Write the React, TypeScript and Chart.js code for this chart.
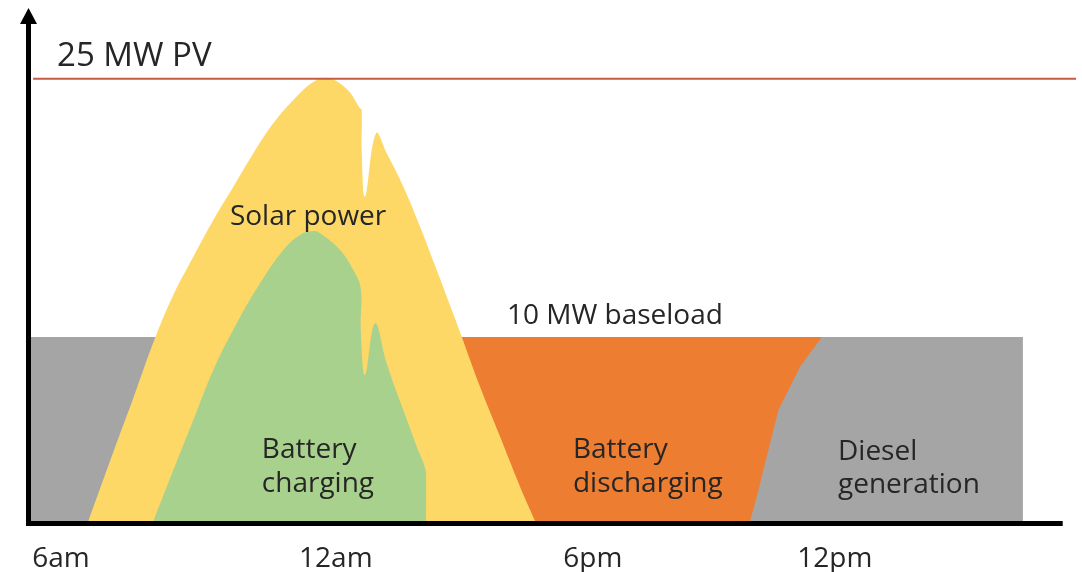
import { useEffect, useRef } from 'react';
import { Chart, registerables } from 'chart.js';

Chart.register(...registerables);

// x values are hours of the day, y values are MW
const tickHours = [6, 12.2, 18, 23.46];
const tickLabels = ['6am', '12am', '6pm', '12pm'];

const pvCapHours = [5.37, 28.9];
const pvCapMW = [25, 25];

const baseloadHours = [5.3, 27.7];
const baseloadMW = [10.4, 10.4];

const solarHours = [6.616, 7.18, 7.631, 8.121, 8.534, 8.985, 9.436, 9.888, 10.339, 10.79, 11.241, 11.693, 12.024, 12.446, 12.746, 12.784, 12.786, 12.859, 13.108, 13.349, 13.724, 14.1, 14.477, 14.851, 15.04, 15.454, 15.905, 16.357, 16.695];
const solarMW = [0, 3.9, 6.95, 10.34, 12.78, 14.94, 17.02, 18.9, 20.79, 22.48, 23.8, 24.82, 25.04, 24.42, 23.33, 23.23, 20.8, 18.33, 21.92, 20.79, 18.9, 16.64, 14.19, 11.7, 10.42, 7.59, 4.77, 1.94, 0];

const chargeHours = [8.083, 8.534, 8.985, 9.436, 9.964, 10.49, 11.016, 11.393, 11.693, 11.844, 12.295, 12.595, 12.762, 12.764, 12.859, 13.084, 13.349, 13.723, 14.026, 14.236, 14.238];
const chargeMW = [0, 2.88, 5.71, 8.54, 11.18, 13.44, 15.32, 16.17, 16.39, 16.26, 15.32, 14.19, 13.15, 10.8, 8.25, 11.18, 8.91, 6.27, 4.2, 2.7, 0];

const dischargeHours = [14.5, 23.164];
const dischargeMW = [10.4, 10.4];

const dieselHours = [21.546, 21.697, 21.846, 22.036, 22.185, 22.449, 22.674, 23.164, 27.7];
const dieselMW = [0, 1.37, 2.88, 4.77, 6.27, 7.59, 8.72, 10.4, 10.4];

const pts = (xs: number[], ys: number[]) => xs.map((x, i) => ({ x, y: ys[i] }));

const FONT = '"Open Sans", "DejaVu Sans", sans-serif';
const TEXT = '#262626';

const annotations = [
  { text: '25 MW PV', h: 5.91, v: 25.72, size: 33 },
  { text: 'Solar power', h: 9.81, v: 16.73, size: 28 },
  { text: 'Battery', h: 10.53, v: 3.56, size: 28 },
  { text: 'charging', h: 10.53, v: 1.64, size: 28 },
  { text: '10 MW baseload', h: 16.06, v: 11.14, size: 28 },
  { text: 'Battery', h: 17.55, v: 3.56, size: 28 },
  { text: 'discharging', h: 17.55, v: 1.64, size: 28 },
  { text: 'Diesel', h: 23.53, v: 3.45, size: 28 },
  { text: 'generation', h: 23.53, v: 1.58, size: 28 },
];

const overlay = {
  id: 'overlay',
  afterDraw(chart: any) {
    const { ctx, chartArea, scales } = chart;
    const X = (h: number) => scales.x.getPixelForValue(h);
    const Y = (v: number) => scales.y.getPixelForValue(v);
    ctx.save();
    ctx.fillStyle = '#000';
    const left = chartArea.left;
    const bottom = chartArea.bottom;
    // y axis line + arrow
    ctx.fillRect(left - 4, chartArea.top + 14, 5, bottom + 5 - (chartArea.top + 14));
    ctx.beginPath();
    ctx.moveTo(left - 1.5, chartArea.top);
    ctx.lineTo(left - 10, chartArea.top + 16);
    ctx.lineTo(left + 7, chartArea.top + 16);
    ctx.closePath();
    ctx.fill();
    // x axis line
    ctx.fillRect(left - 4, bottom, X(28.6) - (left - 4), 5);
    // tick labels
    ctx.fillStyle = TEXT;
    ctx.font = `28px ${FONT}`;
    ctx.textAlign = 'center';
    ctx.textBaseline = 'alphabetic';
    tickHours.forEach((h, i) => ctx.fillText(tickLabels[i], X(h), bottom + 46));
    // annotations
    ctx.textAlign = 'left';
    annotations.forEach((a) => {
      ctx.font = `${a.size}px ${FONT}`;
      ctx.fillText(a.text, X(a.h), Y(a.v));
    });
    ctx.restore();
  },
};

const area = (label: string, data: any[], color: string, order: number, tension = 0) => ({
  label,
  data,
  order,
  backgroundColor: color,
  borderColor: 'rgba(0,0,0,0)',
  borderWidth: 0,
  pointRadius: 0,
  fill: 'origin',
  tension,
});

export default function App() {
  const ref = useRef<HTMLCanvasElement>(null);
  useEffect(() => {
    const chart = new Chart(ref.current as HTMLCanvasElement, {
      type: 'line',
      data: {
        datasets: [
          {
            label: '25 MW PV',
            data: pts(pvCapHours, pvCapMW),
            order: 1,
            borderColor: '#C55A46',
            borderWidth: 2,
            pointRadius: 0,
            fill: false,
            clip: false,
          } as any,
          area('Battery charging', pts(chargeHours, chargeMW), '#A9D18E', 2, 0.4),
          area('Solar power', pts(solarHours, solarMW), '#FDD866', 3, 0.4),
          area('Diesel generation', pts(dieselHours, dieselMW), '#A5A5A5', 4, 0),
          area('Battery discharging', pts(dischargeHours, dischargeMW), '#ED7D31', 5),
          area('10 MW baseload', pts(baseloadHours, baseloadMW), '#A5A5A5', 6),
        ] as any,
      },
      options: {
        animation: false,
        responsive: false,
        events: [],
        layout: { padding: { left: 30, right: 6, top: 8, bottom: 51 } },
        scales: {
          x: { type: 'linear', min: 5.3, max: 28.9, display: false },
          y: { type: 'linear', min: 0, max: 29, display: false },
        },
        plugins: {
          legend: { display: false },
          tooltip: { enabled: false },
        },
      },
      plugins: [overlay],
    });
    return () => chart.destroy();
  }, []);
  return (
    <div style={{ position: 'absolute', left: 0, top: 0, width: 1082, height: 572, background: '#fff' }}>
      <canvas ref={ref} width={1082} height={572} style={{ width: 1082, height: 572 }} />
    </div>
  );
}
